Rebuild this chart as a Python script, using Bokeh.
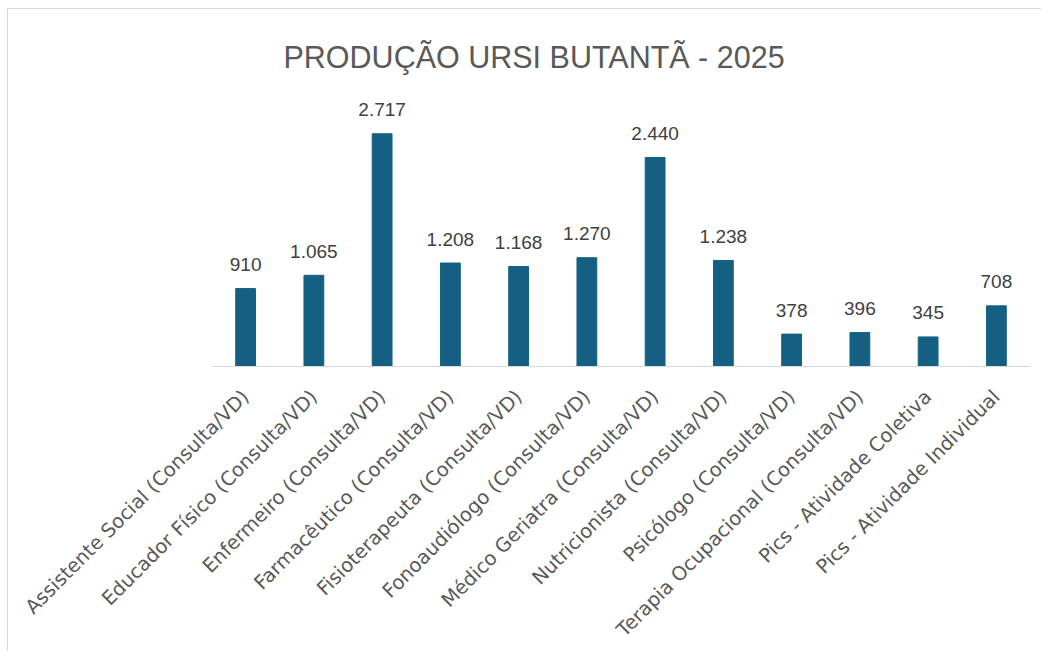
import math
from bokeh.plotting import figure
from bokeh.models import FactorRange, Range1d, ColumnDataSource, Title
from bokeh.core.properties import value
from bokeh.embed import file_html
from bokeh.resources import INLINE

categories = [
    "Assistente Social (Consulta/VD)",
    "Educador Físico (Consulta/VD)",
    "Enfermeiro (Consulta/VD)",
    "Farmacêutico (Consulta/VD)",
    "Fisioterapeuta (Consulta/VD)",
    "Fonoaudiólogo (Consulta/VD)",
    "Médico Geriatra (Consulta/VD)",
    "Nutricionista (Consulta/VD)",
    "Psicólogo (Consulta/VD)",
    "Terapia Ocupacional (Consulta/VD)",
    "Pics - Atividade Coletiva",
    "Pics - Atividade Individual",
]
values = [910, 1065, 2717, 1208, 1168, 1270, 2440, 1238, 378, 396, 345, 708]
labels = [f"{v:,}".replace(",", ".") for v in values]

title_text = "PRODUÇÃO URSI BUTANTÃ - 2025"

src = ColumnDataSource(dict(cat=categories, val=values, lab=labels))

p = figure(
    x_range=FactorRange(factors=categories),
    y_range=Range1d(0, 3327),
    width=1034,
    height=643,
    output_backend="svg",
    toolbar_location=None,
    min_border_left=203,
    min_border_right=12,
    min_border_top=72,
    min_border_bottom=282,
)
p.styles = {"border-left": "1px solid #d9d9d9", "border-top": "1px solid #d9d9d9",
            "margin-left": "7px", "margin-top": "8px"}
p.outline_line_color = None
p.background_fill_color = "white"
p.border_fill_color = "white"

t = Title(text=title_text, align="left", offset=72, standoff=15,
          text_font="Liberation Sans", text_font_size="30.5px",
          text_font_style="normal", text_color="#595959")
p.add_layout(t, "above")

p.vbar(x="cat", top="val", width=0.29, source=src,
       fill_color="#156082", line_color="#156082")

p.text(x="cat", y="val", text="lab", source=src,
       text_align="center", text_baseline="alphabetic", y_offset=-24,
       text_font=value("Liberation Sans"), text_font_size="19px",
       text_color="#404040")

p.yaxis.visible = False
p.xgrid.grid_line_color = None
p.ygrid.grid_line_color = None

ax = p.xaxis[0]
ax.axis_line_color = "#d9d9d9"
ax.axis_line_width = 1
ax.major_tick_line_color = None
ax.minor_tick_line_color = None
ax.major_label_orientation = math.pi / 4
ax.major_label_standoff = 21
ax.major_label_text_font = "DejaVu Sans"
ax.major_label_text_font_size = "19.5px"
ax.major_label_text_color = "#595959"

open("out.html", "w").write(file_html(p, INLINE))
